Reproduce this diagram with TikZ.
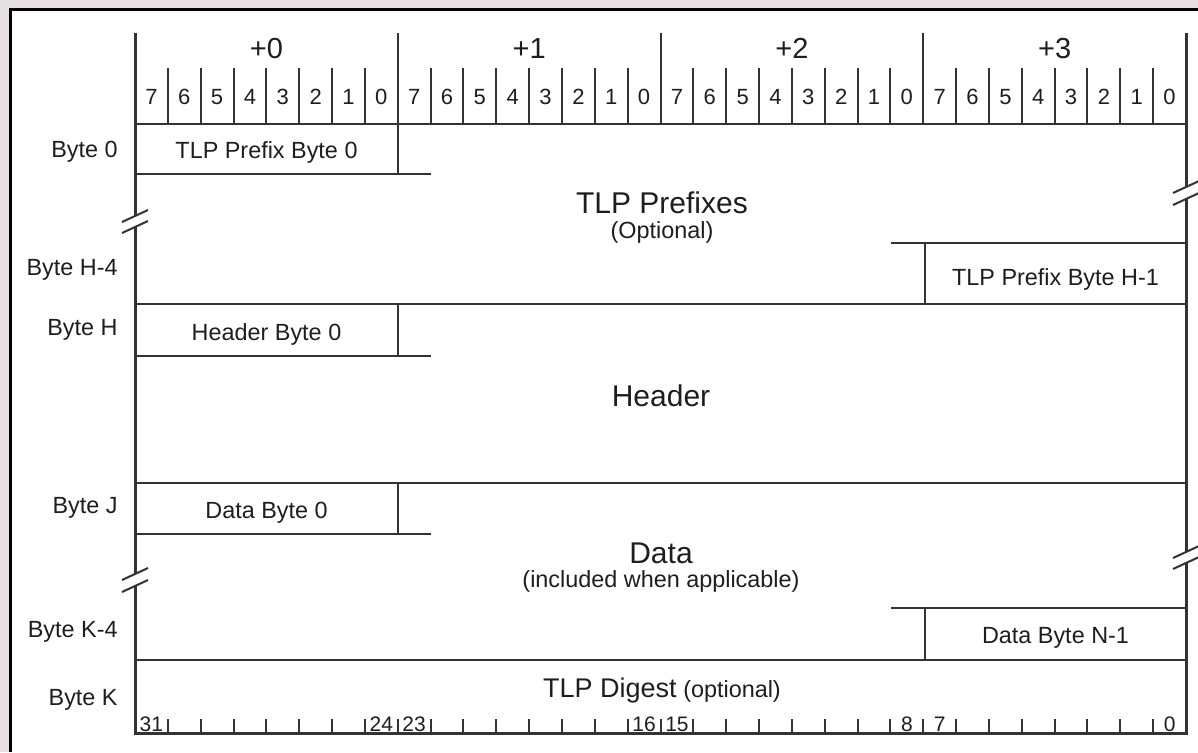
\documentclass[tikz,border=0pt]{standalone}
\usepackage{fontspec}
\setmainfont{Liberation Sans}
\definecolor{backdrop}{HTML}{E6DFE3}
\definecolor{ink}{HTML}{1E1E1E}
\definecolor{rule}{HTML}{333333}
\tikzset{
  thinrule/.style={rule,line width=1pt},
  framerule/.style={rule,line width=1.5pt},
  bytehead/.style={text=ink,inner sep=0pt,anchor=base,font=\fontsize{14.5}{17}\selectfont},
  bitnum/.style={text=ink,inner sep=0pt,anchor=base,font=\fontsize{11}{13}\selectfont},
  rulernum/.style={text=ink,inner sep=0pt,anchor=base,font=\fontsize{10.5}{12}\selectfont},
  rowlabel/.style={text=ink,inner sep=0pt,anchor=base east,font=\fontsize{11.7}{14}\selectfont},
  fieldtext/.style={text=ink,inner sep=0pt,anchor=base,font=\fontsize{11.7}{14}\selectfont},
  bigtext/.style={text=ink,inner sep=0pt,anchor=base,font=\fontsize{15}{18}\selectfont},
}
\begin{document}
\begin{tikzpicture}[x=0.5pt,y=-0.5pt]
\pgfmathsetmacro{\xl}{135}
\pgfmathsetmacro{\xr}{1186}
\pgfmathsetmacro{\bw}{(\xr-\xl)/32}
\useasboundingbox (0,0) rectangle (1198,752);
%panel
\fill[backdrop] (0,0) rectangle (1198,752);
\fill[white] (10.5,9.5) rectangle (1198,752);
\draw[black,line width=1.5pt] (1198,9.5)--(10.5,9.5)--(10.5,752);
%byte and bit heads
\foreach \k in {0,...,3}
  \node[bytehead] (plus\k) at ({\xl+(\k+0.5)*8*\bw},58) {+\k};
\foreach \i in {0,...,31}{
  \pgfmathtruncatemacro{\b}{7-mod(\i,8)}
  \node[bitnum] (bit\i) at ({\xl+(\i+0.5)*\bw},104) {\b};
}
\foreach \i in {1,...,31}{
  \draw[thinrule] ({\xl+\i*\bw},68)--++(0,56);
  \draw[thinrule] ({\xl+\i*\bw},719)--++(0,14);
}
\foreach \i in {8,16,24}
  \draw[thinrule] ({\xl+\i*\bw},33)--++(0,35);
%bottom ruler
\foreach \i/\n in {0/31,7/24,8/23,15/16,16/15,23/8,24/7,31/0}
  \node[rulernum] (low\n) at ({\xl+(\i+0.5)*\bw},731) {\n};
%frame with breaks
\draw[framerule] (\xl,33)--(\xl,216) (\xl,227)--(\xl,574) (\xl,586)--(\xl,733)--(\xr,733)--(\xr,563)
  (\xr,552)--(\xr,199) (\xr,187)--(\xr,33);
\foreach \x/\y in {\xl/216,\xl/227,\xl/574,\xl/586,\xr/187,\xr/199,\xr/552,\xr/563}
  \draw[thinrule] (\x,\y)++(-13,6)--++(26,-12);
%rows
\draw[thinrule] (\xl,124)--(\xr,124);
\draw[thinrule] (398,124)--(398,174) (\xl,174)--++(263+\bw,0);
\draw[thinrule] (\xr,243)--++(-262-\bw,0) (925,243)--(925,304);
\draw[thinrule] (\xl,304)--(\xr,304);
\draw[thinrule] (398,304)--(398,356) (\xl,356)--++(263+\bw,0);
\draw[thinrule] (\xl,483)--(\xr,483);
\draw[thinrule] (398,483)--(398,534) (\xl,534)--++(263+\bw,0);
\draw[thinrule] (\xr,608)--++(-262-\bw,0) (925,608)--(925,660);
\draw[thinrule] (\xl,660)--(\xr,660);
%row labels
\node[rowlabel] (byte0) at (118,157) {Byte 0};
\node[rowlabel] (byteh4) at (118,275) {Byte H-4};
\node[rowlabel] (byteh) at (118,335) {Byte H};
\node[rowlabel] (bytej) at (118,513) {Byte J};
\node[rowlabel] (bytek4) at (118,637) {Byte K-4};
\node[rowlabel] (bytek) at (118,705) {Byte K};
%fields
\node[fieldtext] (prefix0) at (266.5,158) {TLP Prefix Byte 0};
\node[fieldtext] (prefixh) at (1055.5,285) {TLP Prefix Byte H-1};
\node[fieldtext] (header0) at (266.5,340) {Header Byte 0};
\node[fieldtext] (data0) at (266.5,518) {Data Byte 0};
\node[fieldtext] (datan) at (1055.5,643) {Data Byte N-1};
\node[bigtext] (prefixes) at (662,213) {TLP Prefixes};
\node[fieldtext] (prefixopt) at (662,238) {(Optional)};
\node[bigtext] (header) at (661,406) {Header};
\node[bigtext] (data) at (661,563) {Data};
\node[fieldtext] (dataopt) at (661,587) {(included when applicable)};
\node[fieldtext] (digest) at (662,697) {{\fontsize{13.5}{16}\selectfont TLP Digest} (optional)};
\end{tikzpicture}
\end{document}
